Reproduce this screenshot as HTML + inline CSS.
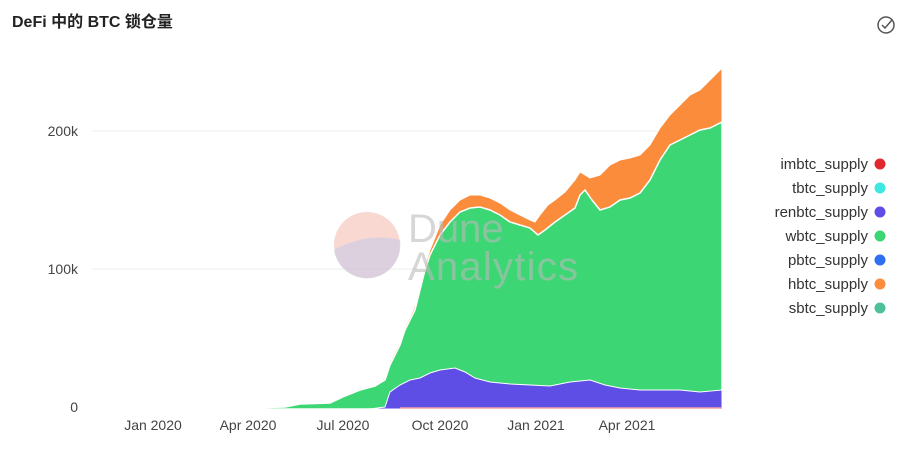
<!DOCTYPE html>
<html><head><meta charset="utf-8"><style>
body{margin:0;background:#fff;width:910px;height:466px;overflow:hidden;font-family:"Liberation Sans","Noto Sans CJK SC",sans-serif;}
</style></head><body>
<svg width="910" height="466" xmlns="http://www.w3.org/2000/svg" font-family="Liberation Sans, Noto Sans CJK SC, sans-serif">
<text x="12" y="27" font-size="16" font-weight="bold" fill="#222">DeFi 中的 BTC 锁仓量</text>
<g fill="none" stroke="#555" stroke-width="1.5"><circle cx="886" cy="25" r="8"/><path d="M882 25l3 3 7-8"/></g>
<line x1="92" y1="131" x2="722" y2="131" stroke="#eee"/>
<line x1="92" y1="269" x2="722" y2="269" stroke="#eee"/>
<g font-size="14" fill="#444" text-anchor="end">
<text x="78" y="136">200k</text><text x="78" y="274">100k</text><text x="78" y="412">0</text></g>
<g font-size="14" fill="#444" text-anchor="middle">
<text x="153" y="430">Jan 2020</text><text x="248" y="430">Apr 2020</text><text x="343" y="430">Jul 2020</text><text x="440" y="430">Oct 2020</text><text x="536" y="430">Jan 2021</text><text x="627" y="430">Apr 2021</text></g>
<polygon fill="#fa8c3c" stroke="#fff" stroke-width="1" points="92,409 200,409 285,407 300,404 330,403 345,396 360,390 375,386 385,378 390,362 395,352 400,342 405,327 410,317 415,306 420,286 425,265 430,250 440,225 450,210 460,200 470,195 480,195 490,198 500,203 510,210 520,215 530,220 535,222 540,215 548,205 555,200 565,192 575,180 580,172 585,175 590,178 600,175 610,165 620,160 630,158 640,155 650,145 660,128 670,115 680,105 690,95 700,90 710,80 722,68 722,409"/>
<polygon fill="#3dd675" stroke="#fff" stroke-width="1.5" points="92,409 200,409 285,407 300,404 330,403 345,396 360,390 375,386 385,380 390,365 395,355 400,345 405,330 410,320 415,310 420,290 425,270 430,255 440,235 450,222 460,212 470,208 480,207 490,210 500,215 510,222 520,225 530,228 538,235 545,230 555,222 565,215 575,208 580,195 585,190 592,200 600,210 610,207 620,200 630,198 640,193 650,180 660,160 670,145 680,140 690,135 700,130 710,128 722,122 722,409"/>
<polygon fill="#5f4ee6" stroke="#fff" stroke-width="1" points="370,409 385,407 390,392 400,385 410,380 420,378 430,373 440,370 455,368 465,372 475,378 490,382 510,384 530,385 550,386 570,382 590,380 605,385 620,388 640,390 660,390 680,390 700,392 722,390 722,409"/>
<polyline fill="none" stroke="#f2a0a0" stroke-width="1.5" points="400,408 722,408"/>
<circle cx="367" cy="245" r="33" fill="#f6b8ad" opacity="0.55"/>
<path d="M334,250 Q367,232 400,240 A33,33 0 0 1 334,250Z" fill="#c8cce6" opacity="0.6"/>
<text x="408" y="242" font-size="40" fill="#bbb" opacity="0.6">Dune</text>
<text x="408" y="280" font-size="40" fill="#bbb" opacity="0.6" textLength="170">Analytics</text>
<g font-size="15" fill="#333" text-anchor="end">
<text x="868" y="169">imbtc_supply</text><text x="868" y="193">tbtc_supply</text><text x="868" y="217">renbtc_supply</text><text x="868" y="241">wbtc_supply</text><text x="868" y="265">pbtc_supply</text><text x="868" y="289">hbtc_supply</text><text x="868" y="313">sbtc_supply</text></g>
<circle cx="880" cy="164" r="5.5" fill="#e0282e"/><circle cx="880" cy="188" r="5.5" fill="#3ee8e0"/><circle cx="880" cy="212" r="5.5" fill="#5f4ee6"/><circle cx="880" cy="236" r="5.5" fill="#3dd675"/><circle cx="880" cy="260" r="5.5" fill="#2f6ff0"/><circle cx="880" cy="284" r="5.5" fill="#fa8c3c"/><circle cx="880" cy="308" r="5.5" fill="#4dbf9a"/>
</svg>
</body></html>
